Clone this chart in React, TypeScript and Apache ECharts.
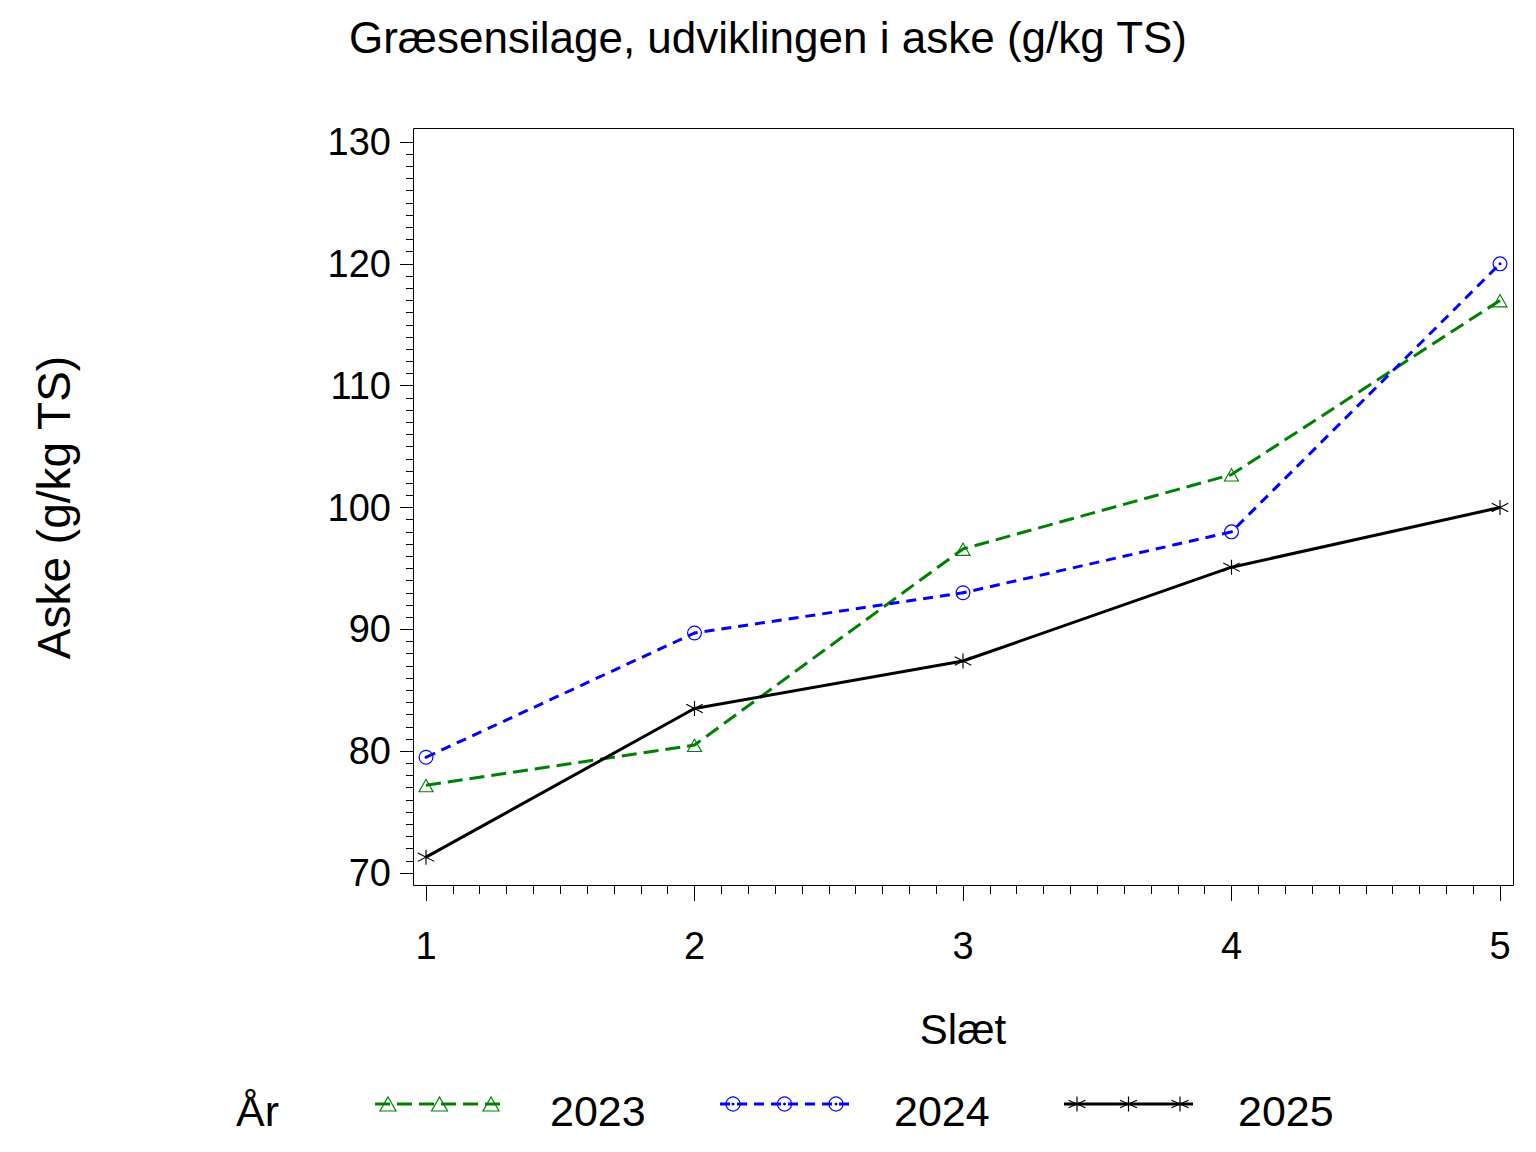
import React, { useEffect, useRef } from "react";
import * as echarts from "echarts";

const TITLE = "Græsensilage, udviklingen i aske (g/kg TS)";
const X_NAME = "Slæt";
const Y_NAME = "Aske (g/kg TS)";
const LEGEND_TITLE = "År";

const slaet = [1, 2, 3, 4, 5];
const seriesNames = ["2023", "2024", "2025"];
const v2023 = [77.2, 80.5, 96.6, 102.7, 117.0];
const v2024 = [79.5, 89.7, 93.0, 98.0, 120.0];
const v2025 = [71.3, 83.5, 87.4, 95.1, 100.0];
const seriesValues = [v2023, v2024, v2025];
const seriesColors = ["#008000", "#0000FF", "#000000"];

const FONT = '"Liberation Sans", Arial, Helvetica, sans-serif';

const TRI = "path://M50,0 L100,86.6 L0,86.6 Z M50,14 L12.1,79.6 L87.9,79.6 Z";
const RING =
  "path://M50,0 A50,50 0 1,1 50,100 A50,50 0 1,1 50,0 Z M50,8 A42,42 0 1,0 50,92 A42,42 0 1,0 50,8 Z M50,40 A10,10 0 1,1 50,60 A10,10 0 1,1 50,40 Z";
const STAR =
  "path://M46.5,0 L53.5,0 L53.5,100 L46.5,100 Z M1.7,18.9 L101.7,74.9 L98.3,81.1 L-1.7,25.1 Z M-1.7,74.9 L98.3,18.9 L101.7,25.1 L1.7,81.1 Z";

const symbols = [TRI, RING, STAR];
const symbolSizes: any[] = [[16, 14], 15, [17, 15]];
const dashes: any[] = [[15, 7], [10, 7], "solid"];

function legendMarker(kind: number, cx: number, cy: number, color: string): any[] {
  if (kind === 0) {
    return [
      {
        type: "polygon",
        shape: { points: [[cx, cy - 7], [cx + 8, cy + 7], [cx - 8, cy + 7]] },
        style: { fill: "none", stroke: color, lineWidth: 1.2 },
        z: 10,
      },
    ];
  }
  if (kind === 1) {
    return [
      { type: "circle", shape: { cx, cy, r: 7 }, style: { fill: "none", stroke: color, lineWidth: 1.2 }, z: 10 },
      { type: "circle", shape: { cx, cy, r: 1.5 }, style: { fill: color }, z: 10 },
    ];
  }
  return [
    { type: "line", shape: { x1: cx, y1: cy - 7.5, x2: cx, y2: cy + 7.5 }, style: { stroke: color, lineWidth: 1.2 }, z: 10 },
    { type: "line", shape: { x1: cx - 8.5, y1: cy - 3.8, x2: cx + 8.5, y2: cy + 3.8 }, style: { stroke: color, lineWidth: 1.2 }, z: 10 },
    { type: "line", shape: { x1: cx - 8.5, y1: cy + 3.8, x2: cx + 8.5, y2: cy - 3.8 }, style: { stroke: color, lineWidth: 1.2 }, z: 10 },
  ];
}

export default function App() {
  const ref = useRef<HTMLDivElement>(null);

  useEffect(() => {
    if (!ref.current) return;
    const chart = echarts.init(ref.current, undefined, { renderer: "svg" });

    const legendStarts = [375, 720, 1064];
    const legendTextX = [550, 894, 1238];
    const legendY = 1104;
    const graphics: any[] = [
      {
        type: "rect",
        shape: { x: 413.5, y: 128.5, width: 1100, height: 757 },
        style: { fill: "none", stroke: "#000", lineWidth: 1 },
        z: 5,
      },
      {
        type: "text",
        x: 236,
        y: 1111,
        style: { text: LEGEND_TITLE, fontSize: 43, fontFamily: FONT, fill: "#000", align: "left", verticalAlign: "middle" },
      },
    ];
    seriesNames.forEach((name, i) => {
      const x0 = legendStarts[i];
      const x1 = x0 + 129;
      graphics.push({
        type: "line",
        shape: { x1: x0, y1: legendY, x2: x1, y2: legendY },
        style: { stroke: seriesColors[i], lineWidth: 3, lineDash: dashes[i] === "solid" ? null : dashes[i] },
      });
      [x0 + 13, (x0 + x1) / 2, x1 - 13].forEach((cx) => {
        graphics.push(...legendMarker(i, cx, legendY, seriesColors[i]));
      });
      graphics.push({
        type: "text",
        x: legendTextX[i],
        y: 1111,
        style: { text: name, fontSize: 43, fontFamily: FONT, fill: "#000", align: "left", verticalAlign: "middle" },
      });
    });

    chart.setOption({
      animation: false,
      backgroundColor: "#fff",
      title: {
        text: TITLE,
        left: "center",
        top: 15,
        padding: 0,
        textStyle: { fontSize: 44, fontWeight: "normal", fontFamily: FONT, color: "#000" },
      },
      grid: { left: 426, right: 36, top: 142, bottom: 279, containLabel: false },
      xAxis: {
        type: "value",
        min: 1,
        max: 5,
        interval: 1,
        offset: 13,
        name: X_NAME,
        nameLocation: "middle",
        nameGap: 122,
        nameTextStyle: { fontSize: 42, fontFamily: FONT, color: "#000" },
        axisLine: { show: false },
        axisTick: { show: true, length: 15, lineStyle: { color: "#000", width: 1 } },
        minorTick: { show: true, splitNumber: 10, length: 8, lineStyle: { color: "#000", width: 1 } },
        splitLine: { show: false },
        axisLabel: { fontSize: 38, fontFamily: FONT, color: "#000", margin: 41 },
      },
      yAxis: {
        type: "value",
        min: 70,
        max: 130,
        interval: 10,
        offset: 13,
        name: Y_NAME,
        nameLocation: "middle",
        nameGap: 336,
        nameTextStyle: { fontSize: 46, fontFamily: FONT, color: "#000" },
        axisLine: { show: false },
        axisTick: { show: true, length: 13, lineStyle: { color: "#000", width: 1 } },
        minorTick: { show: true, splitNumber: 10, length: 7, lineStyle: { color: "#000", width: 1 } },
        splitLine: { show: false },
        axisLabel: { fontSize: 38, fontFamily: FONT, color: "#000", margin: 22 },
      },
      series: seriesNames.map((name, i) => ({
        name,
        type: "line",
        clip: false,
        data: slaet.map((x, j) => [x, seriesValues[i][j]]),
        symbol: symbols[i],
        symbolSize: symbolSizes[i],
        showSymbol: true,
        itemStyle: { color: seriesColors[i] },
        lineStyle: { color: seriesColors[i], width: 3, type: dashes[i] },
        z: 3,
      })),
      graphic: graphics,
    });

    return () => chart.dispose();
  }, []);

  return (
    <div
      ref={ref}
      style={{ position: "absolute", left: 0, top: 0, width: 1536, height: 1152, background: "#fff" }}
    />
  );
}
